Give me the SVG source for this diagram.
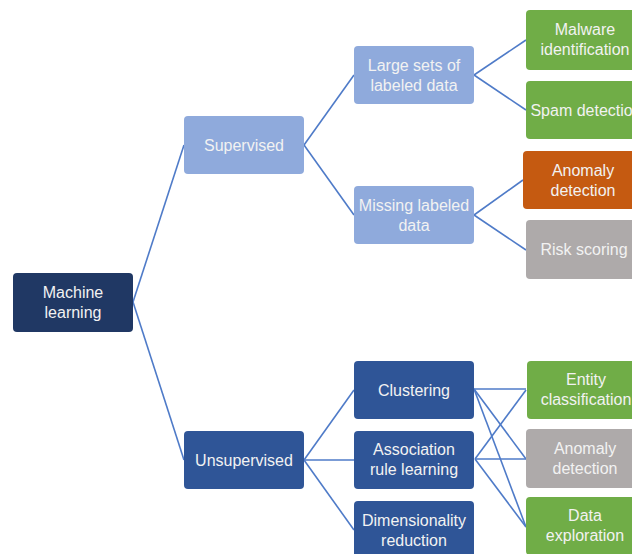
<svg xmlns="http://www.w3.org/2000/svg" width="632" height="554" viewBox="0 0 632 554">
<style>
.n rect{rx:4;ry:4}
.t{font-family:"Liberation Sans",Arial,sans-serif;font-size:16px;fill:#F2F2F2;text-anchor:middle}
.c line{stroke:#4F7BC8;stroke-width:1.6;fill:none}
.dk{fill:#203864}.lt{fill:#8FAADC}.md{fill:#2F5597}.gr{fill:#70AD47}.or{fill:#C55A11}.gy{fill:#AEAAAA}
</style>
<rect width="632" height="554" fill="#fff"/>
<g class="c" id="connectors">
<line x1="133" y1="302" x2="184" y2="145"/>
<line x1="133" y1="302" x2="184" y2="460"/>
<line x1="304" y1="145" x2="354" y2="75"/>
<line x1="304" y1="145" x2="354" y2="215"/>
<line x1="474" y1="75" x2="526" y2="40"/>
<line x1="474" y1="75" x2="526" y2="110"/>
<line x1="474" y1="215" x2="523" y2="180"/>
<line x1="474" y1="215" x2="526" y2="250"/>
<line x1="304" y1="460" x2="354" y2="390"/>
<line x1="304" y1="460" x2="354" y2="460"/>
<line x1="304" y1="460" x2="354" y2="530"/>
<line x1="474" y1="389" x2="526" y2="389"/>
<line x1="474" y1="389" x2="526" y2="459"/>
<line x1="474" y1="389" x2="526" y2="527"/>
<line x1="475" y1="459" x2="526" y2="390"/>
<line x1="475" y1="459" x2="526" y2="459"/>
<line x1="475" y1="459" x2="526" y2="527"/>
</g>
<g class="n" id="machine-learning"><rect class="dk" x="13" y="273" width="120" height="59"/><text class="t" x="73" y="298">Machine</text><text class="t" x="73" y="318">learning</text></g>
<g class="n" id="supervised"><rect class="lt" x="184" y="116" width="120" height="58"/><text class="t" x="244" y="150.5">Supervised</text></g>
<g class="n" id="unsupervised"><rect class="md" x="184" y="431" width="120" height="58"/><text class="t" x="244" y="465.5">Unsupervised</text></g>
<g class="n" id="large-sets"><rect class="lt" x="354" y="46" width="120" height="58"/><text class="t" x="414" y="70.5">Large sets of</text><text class="t" x="414" y="90.5">labeled data</text></g>
<g class="n" id="missing-labeled"><rect class="lt" x="354" y="186" width="120" height="58"/><text class="t" x="414" y="210.5">Missing labeled</text><text class="t" x="414" y="230.5">data</text></g>
<g class="n" id="malware"><rect class="gr" x="526" y="10" width="120" height="60"/><text class="t" x="585" y="35">Malware</text><text class="t" x="585" y="55">identification</text></g>
<g class="n" id="spam"><rect class="gr" x="526" y="81" width="120" height="58"/><text class="t" x="586" y="115.5">Spam detection</text></g>
<g class="n" id="anomaly-orange"><rect class="or" x="523" y="151" width="120" height="58"/><text class="t" x="583" y="175.5">Anomaly</text><text class="t" x="583" y="195.5">detection</text></g>
<g class="n" id="risk"><rect class="gy" x="526" y="220" width="120" height="59"/><text class="t" x="584" y="255">Risk scoring</text></g>
<g class="n" id="clustering"><rect class="md" x="354" y="361" width="120" height="58"/><text class="t" x="414" y="395.5">Clustering</text></g>
<g class="n" id="association"><rect class="md" x="354" y="431" width="120" height="58"/><text class="t" x="414" y="455">Association</text><text class="t" x="414" y="475">rule learning</text></g>
<g class="n" id="dimensionality"><rect class="md" x="354" y="501" width="120" height="58"/><text class="t" x="414" y="525.5">Dimensionality</text><text class="t" x="414" y="545.5">reduction</text></g>
<g class="n" id="entity"><rect class="gr" x="527" y="361" width="120" height="58"/><text class="t" x="586" y="384.5">Entity</text><text class="t" x="586" y="404.5">classification</text></g>
<g class="n" id="anomaly-gray"><rect class="gy" x="526" y="429" width="120" height="59"/><text class="t" x="585" y="454">Anomaly</text><text class="t" x="585" y="474">detection</text></g>
<g class="n" id="data-exploration"><rect class="gr" x="526" y="497" width="120" height="58"/><text class="t" x="585" y="521">Data</text><text class="t" x="585" y="541">exploration</text></g>
</svg>
